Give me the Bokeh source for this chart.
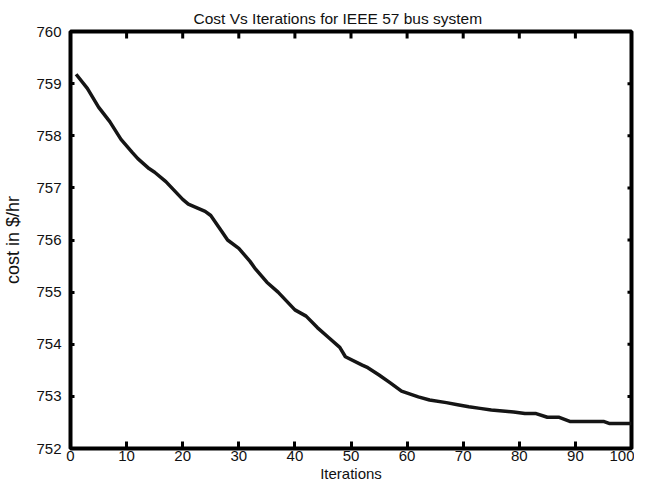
import math
from bokeh.plotting import figure
from bokeh.models import Range1d, FixedTicker
from bokeh.embed import file_html
from bokeh.resources import INLINE

# ---- data ----
iterations = [1, 3, 5, 7, 9, 11, 12, 14, 15, 17, 20, 21, 24, 25, 27, 28, 30, 32, 33, 35,
              37, 40, 42, 44, 46, 48, 49, 52, 53, 55, 57, 59, 62, 64, 67, 69, 71, 73, 75,
              78, 79, 81, 83, 85, 87, 89, 95, 96, 100]
cost = [759.18, 758.91, 758.55, 758.27, 757.93, 757.68, 757.56, 757.37, 757.30, 757.12,
        756.78, 756.69, 756.55, 756.47, 756.16, 756.00, 755.84, 755.59, 755.44, 755.19,
        755.00, 754.66, 754.54, 754.32, 754.13, 753.94, 753.76, 753.60, 753.55, 753.41,
        753.26, 753.10, 752.99, 752.93, 752.88, 752.84, 752.80, 752.77, 752.74, 752.71,
        752.70, 752.67, 752.67, 752.60, 752.60, 752.52, 752.52, 752.48, 752.48]
x_ticks = [0, 10, 20, 30, 40, 50, 60, 70, 80, 90, 100]
y_ticks = [752, 753, 754, 755, 756, 757, 758, 759, 760]

title_text = "Cost Vs Iterations for IEEE 57 bus system"
x_label = "Iterations"
y_label = "cost in $/hr"

FONT = "Liberation Sans"
X0, X1, Y0, Y1 = 0, 100, 752, 760

p = figure(width=634, height=484,
           x_range=Range1d(X0, X1), y_range=Range1d(Y0, Y1),
           output_backend="svg", toolbar_location=None,
           min_border_left=69, min_border_right=3,
           min_border_top=31, min_border_bottom=35)

p.title.text = title_text
p.title.text_font = FONT
p.title.text_font_size = "15.5px"
p.title.text_font_style = "normal"
p.title.text_color = "#111111"
p.title.align = "left"
p.title.offset = 123
p.title.standoff = 9

p.grid.visible = False
p.background_fill_color = "white"
p.border_fill_color = "white"
p.outline_line_color = "black"
p.outline_line_width = 4

xa = p.xaxis[0]
xa.ticker = FixedTicker(ticks=x_ticks)
xa.axis_label = x_label
ya = p.yaxis[0]
ya.ticker = FixedTicker(ticks=y_ticks)
ya.axis_label = y_label

for ax in (xa, ya):
    ax.axis_line_color = None
    ax.major_tick_out = 0
    ax.minor_tick_line_color = None
    ax.major_tick_line_color = "black"
    ax.major_tick_line_width = 3
    ax.major_label_text_font = FONT
    ax.major_label_text_font_size = "15px"
    ax.major_label_text_color = "#111111"
    ax.axis_label_text_font = FONT
    ax.axis_label_text_font_style = "normal"
    ax.axis_label_text_color = "#111111"

xa.major_tick_in = 7
xa.major_label_standoff = 2
xa.axis_label_text_font_size = "15px"
xa.axis_label_standoff = 1

ya.major_tick_in = 4
ya.major_label_standoff = 9
ya.axis_label_text_font_size = "18px"
ya.axis_label_standoff = 10

# ticks on the top and right sides of the box (half of each dash is clipped by the frame)
p.scatter(x=x_ticks, y=[Y1] * len(x_ticks), marker="dash", size=14, angle=math.pi / 2,
          line_color="black", line_width=3)
p.scatter(x=[X1] * len(y_ticks), y=y_ticks, marker="dash", size=8,
          line_color="black", line_width=3)

p.line(iterations, cost, line_color="#151515", line_width=3.5)

open("out.html", "w").write(file_html(p, INLINE))
